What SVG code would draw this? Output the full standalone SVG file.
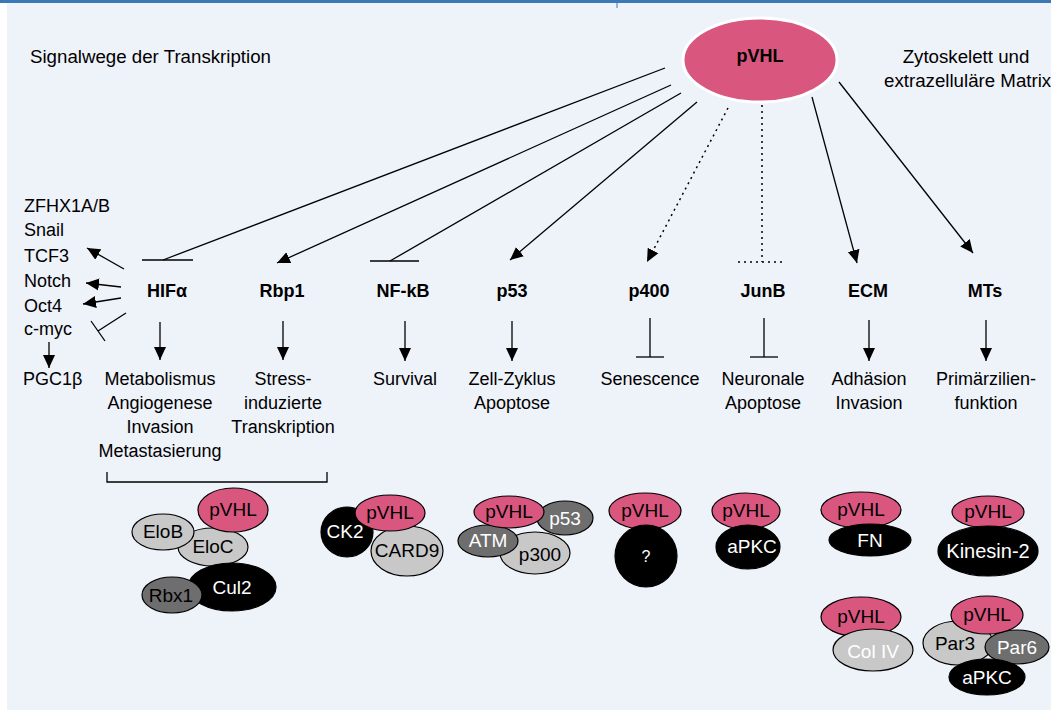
<svg xmlns="http://www.w3.org/2000/svg" width="1051" height="710" viewBox="0 0 1051 710">
<style>
text{font-family:"Liberation Sans",Arial,sans-serif;font-size:18px;fill:#000}
.c{text-anchor:middle}
.b{font-weight:bold}
.w{fill:#fff}
.k{font-size:19px}
.ln{stroke:#000;stroke-width:1.3;fill:none}
.dot{stroke:#000;stroke-width:1.5;fill:none;stroke-dasharray:2 4}
.pk{fill:#d9567f;stroke:#000;stroke-width:1.2}
.lg{fill:#c8c8c8;stroke:#000;stroke-width:1.2}
.dg{fill:#6e6e6e;stroke:#000;stroke-width:1.2}
.bk{fill:#000;stroke:#000;stroke-width:1.2}
</style>
<defs>
<marker id="ah" markerUnits="userSpaceOnUse" markerWidth="14" markerHeight="14" viewBox="0 0 14 14" refX="13" refY="7" orient="auto">
<path d="M0,1 L13,7 L0,13 Z" fill="#000"/>
</marker>
</defs>
<rect x="0" y="0" width="1051" height="710" fill="#fff"/>
<rect x="7" y="3" width="1044" height="707" fill="#eef2f9"/>
<rect x="0" y="0" width="1051" height="3" fill="#3b79b6"/>
<line x1="617" y1="0" x2="617" y2="8" stroke="#3b79b6" stroke-width="1"/>

<text x="30" y="63" style="font-size:18.7px">Signalwege der Transkription</text>
<text x="966" y="63" class="c" style="font-size:18.7px">Zytoskelett und</text>
<text x="884" y="87" style="font-size:18.7px">extrazelluläre Matrix</text>

<g id="pVHL-main">
<ellipse cx="760" cy="60" rx="77" ry="42" fill="#d9567f" stroke="#fff" stroke-width="3"/>
<text x="760" y="62" class="c b">pVHL</text>
</g>

<g id="connectors">
<line class="ln" x1="665" y1="68" x2="163" y2="260"/>
<line class="ln" x1="142" y1="260" x2="193" y2="260"/>
<line class="ln" x1="671" y1="85" x2="277" y2="263" marker-end="url(#ah)"/>
<line class="ln" x1="681" y1="93" x2="390" y2="261"/>
<line class="ln" x1="370" y1="261" x2="419" y2="261"/>
<line class="ln" x1="697" y1="102" x2="510" y2="260" marker-end="url(#ah)"/>
<line class="dot" x1="728" y1="108" x2="647" y2="262" marker-end="url(#ah)"/>
<line class="dot" x1="762" y1="105" x2="762" y2="262"/>
<line class="dot" x1="738" y1="262" x2="782" y2="262"/>
<line class="ln" x1="812" y1="97" x2="857" y2="263" marker-end="url(#ah)"/>
<line class="ln" x1="839" y1="82" x2="973" y2="253" marker-end="url(#ah)"/>

<line class="ln" x1="124" y1="269" x2="87" y2="248" marker-end="url(#ah)"/>
<line class="ln" x1="121" y1="287" x2="86" y2="283" marker-end="url(#ah)"/>
<line class="ln" x1="121" y1="298" x2="83" y2="304" marker-end="url(#ah)"/>
<line class="ln" x1="126" y1="313" x2="98" y2="331"/>
<line class="ln" x1="91" y1="321" x2="105" y2="341"/>
<line class="ln" x1="49" y1="342" x2="49" y2="368" marker-end="url(#ah)"/>

<line class="ln" x1="160" y1="322" x2="160" y2="360" marker-end="url(#ah)"/>
<line class="ln" x1="283" y1="321" x2="283" y2="360" marker-end="url(#ah)"/>
<line class="ln" x1="405" y1="321" x2="405" y2="361" marker-end="url(#ah)"/>
<line class="ln" x1="512" y1="321" x2="512" y2="361" marker-end="url(#ah)"/>
<line class="ln" x1="650" y1="318" x2="650" y2="357"/>
<line class="ln" x1="636" y1="357" x2="664" y2="357"/>
<line class="ln" x1="764" y1="318" x2="764" y2="357"/>
<line class="ln" x1="750" y1="357" x2="778" y2="357"/>
<line class="ln" x1="869" y1="320" x2="869" y2="361" marker-end="url(#ah)"/>
<line class="ln" x1="986" y1="320" x2="986" y2="361" marker-end="url(#ah)"/>

<path class="ln" d="M107,472 V482 H327 V472"/>
</g>

<g id="targets-left">
<text x="24" y="212">ZFHX1A/B</text>
<text x="24" y="236">Snail</text>
<text x="24" y="262">TCF3</text>
<text x="24" y="287">Notch</text>
<text x="24" y="312">Oct4</text>
<text x="24" y="335">c-myc</text>
<text x="23" y="385">PGC1β</text>
</g>

<g id="node-HIF">
<text x="167" y="297" class="c b">HIFα</text>
<text x="160" y="385" class="c">Metabolismus</text>
<text x="160" y="409" class="c">Angiogenese</text>
<text x="160" y="433" class="c">Invasion</text>
<text x="160" y="457" class="c">Metastasierung</text>
</g>
<g id="node-Rbp1">
<text x="282" y="297" class="c b">Rbp1</text>
<text x="283" y="385" class="c">Stress-</text>
<text x="283" y="409" class="c">induzierte</text>
<text x="283" y="433" class="c">Transkription</text>
</g>
<g id="node-NFkB">
<text x="403" y="297" class="c b">NF-kB</text>
<text x="405" y="385" class="c">Survival</text>
</g>
<g id="node-p53">
<text x="512" y="297" class="c b">p53</text>
<text x="512" y="385" class="c">Zell-Zyklus</text>
<text x="512" y="409" class="c">Apoptose</text>
</g>
<g id="node-p400">
<text x="649" y="297" class="c b">p400</text>
<text x="650" y="385" class="c">Senescence</text>
</g>
<g id="node-JunB">
<text x="763" y="297" class="c b">JunB</text>
<text x="763" y="385" class="c">Neuronale</text>
<text x="763" y="409" class="c">Apoptose</text>
</g>
<g id="node-ECM">
<text x="868" y="297" class="c b">ECM</text>
<text x="869" y="385" class="c">Adhäsion</text>
<text x="869" y="409" class="c">Invasion</text>
</g>
<g id="node-MTs">
<text x="985" y="297" class="c b">MTs</text>
<text x="986" y="385" class="c">Primärzilien-</text>
<text x="986" y="409" class="c">funktion</text>
</g>

<g id="complex-HIF">
<ellipse class="lg" cx="213" cy="547" rx="35" ry="19"/>
<ellipse class="bk" cx="232" cy="587" rx="44" ry="24"/>
<ellipse class="dg" cx="172" cy="595" rx="30" ry="18"/>
<ellipse class="lg" cx="163" cy="532" rx="31" ry="18"/>
<ellipse class="pk" cx="233" cy="510" rx="35" ry="22"/>
<text x="233" y="516" class="c k">pVHL</text>
<text x="163" y="538" class="c k">EloB</text>
<text x="213" y="553" class="c k">EloC</text>
<text x="232" y="594" class="c k w">Cul2</text>
<text x="171" y="602" class="c k">Rbx1</text>
</g>

<g id="complex-NFkB">
<ellipse class="bk" cx="347" cy="532" rx="26" ry="25"/>
<ellipse class="lg" cx="407" cy="551" rx="36" ry="25"/>
<ellipse class="pk" cx="390" cy="513" rx="35" ry="18"/>
<text x="390" y="519" class="c k">pVHL</text>
<text x="345" y="538" class="c k w">CK2</text>
<text x="407" y="557" class="c k">CARD9</text>
</g>

<g id="complex-p53">
<ellipse class="lg" cx="535" cy="553" rx="35" ry="21"/>
<ellipse class="dg" cx="488" cy="541" rx="30" ry="16"/>
<ellipse class="dg" cx="565" cy="518" rx="28" ry="17"/>
<ellipse class="pk" cx="509" cy="512" rx="35" ry="16"/>
<text x="509" y="518" class="c k">pVHL</text>
<text x="565" y="525" class="c k w">p53</text>
<text x="488" y="547" class="c k w">ATM</text>
<text x="540" y="561" class="c k">p300</text>
</g>

<g id="complex-p400">
<ellipse class="pk" cx="645" cy="511" rx="36" ry="18"/>
<ellipse class="bk" cx="646" cy="556" rx="31" ry="31"/>
<text x="645" y="517" class="c k">pVHL</text>
<text x="646" y="562" class="c w" style="font-size:16px">?</text>
</g>

<g id="complex-JunB">
<ellipse class="pk" cx="746" cy="511" rx="34" ry="18"/>
<ellipse class="bk" cx="748" cy="547" rx="32" ry="22"/>
<text x="746" y="517" class="c k">pVHL</text>
<text x="752" y="553" class="c k w">aPKC</text>
</g>

<g id="complex-ECM-FN">
<ellipse class="pk" cx="861" cy="510" rx="40" ry="18"/>
<ellipse class="bk" cx="870" cy="540" rx="41" ry="16"/>
<text x="861" y="516" class="c k">pVHL</text>
<text x="870" y="547" class="c k w">FN</text>
</g>

<g id="complex-MTs-Kinesin">
<ellipse class="pk" cx="988" cy="512" rx="36" ry="16"/>
<ellipse class="bk" cx="988" cy="551" rx="50" ry="25"/>
<text x="988" y="518" class="c k">pVHL</text>
<text x="988" y="558" class="c w" style="font-size:20px">Kinesin-2</text>
</g>

<g id="complex-ECM-ColIV">
<ellipse class="pk" cx="861" cy="617" rx="40" ry="20"/>
<ellipse class="lg" cx="873" cy="650" rx="40" ry="21"/>
<text x="861" y="623" class="c k">pVHL</text>
<text x="873" y="658" class="c k w">Col IV</text>
</g>

<g id="complex-MTs-Par">
<ellipse class="lg" cx="958" cy="643" rx="35" ry="22"/>
<ellipse class="dg" cx="1017" cy="647" rx="32" ry="17"/>
<ellipse class="pk" cx="987" cy="615" rx="36" ry="19"/>
<ellipse class="bk" cx="987" cy="677" rx="38" ry="18"/>
<text x="987" y="621" class="c k">pVHL</text>
<text x="955" y="650" class="c k">Par3</text>
<text x="1017" y="654" class="c k w">Par6</text>
<text x="987" y="684" class="c k w">aPKC</text>
</g>
</svg>
